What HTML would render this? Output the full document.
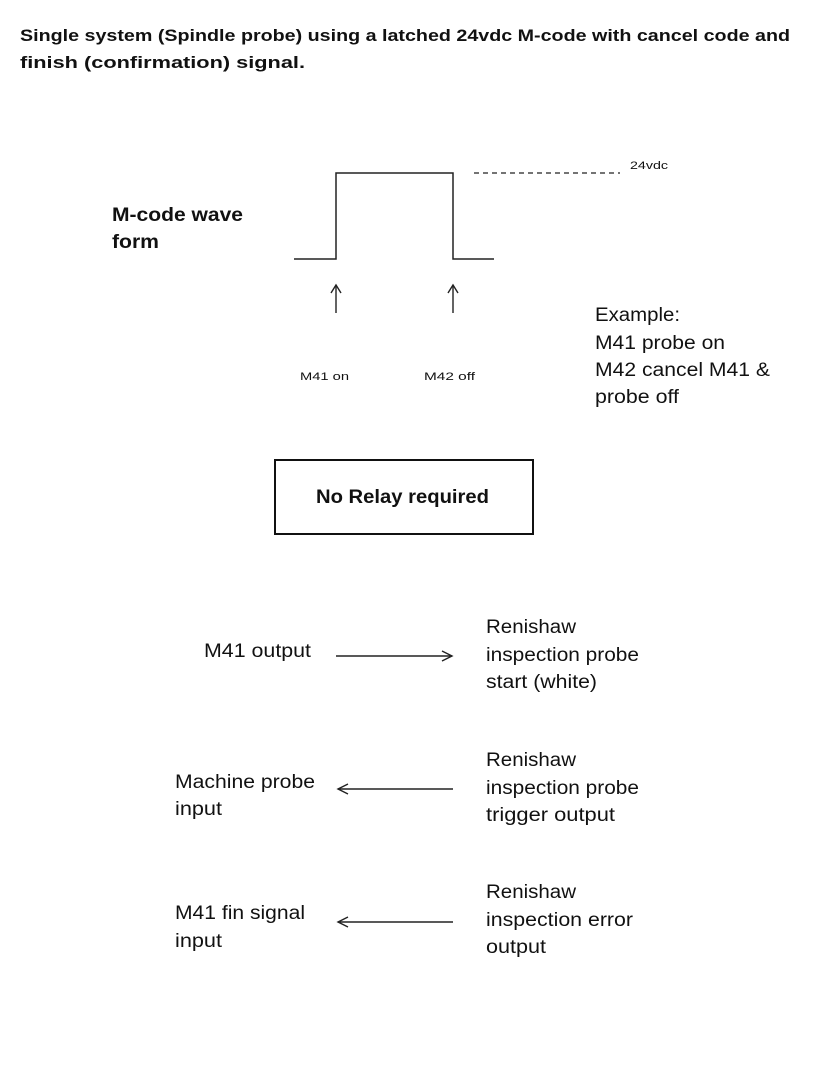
<!DOCTYPE html>
<html><head><meta charset="utf-8"><style>
html,body{margin:0;padding:0;background:#fff;}
svg{display:block;}
text{font-family:"Liberation Sans",sans-serif;fill:#111;}
.b{font-weight:bold;}
.m{font-size:19px;}
.s{font-size:11px;}
</style></head><body>
<svg width="814" height="1070" viewBox="0 0 814 1070" xmlns="http://www.w3.org/2000/svg">
<text x="20" y="41" class="b" font-size="17" textLength="770" lengthAdjust="spacingAndGlyphs">Single system (Spindle probe) using a latched 24vdc M-code with cancel code and</text>
<text x="20" y="68" class="b" font-size="17" textLength="285" lengthAdjust="spacingAndGlyphs">finish (confirmation) signal.</text>

<polyline points="294,259 336,259 336,173 453,173 453,259 494,259" fill="none" stroke="#222" stroke-width="1.5"/>
<line x1="474" y1="173" x2="620" y2="173" stroke="#222" stroke-width="1.3" stroke-dasharray="5,4"/>
<text x="630" y="169" class="s" textLength="38" lengthAdjust="spacingAndGlyphs">24vdc</text>

<text x="112" y="221" class="b m" textLength="131" lengthAdjust="spacingAndGlyphs">M-code wave</text>
<text x="112" y="248" class="b m" textLength="47" lengthAdjust="spacingAndGlyphs">form</text>

<g stroke="#222" stroke-width="1.4" fill="none">
<line x1="336" y1="313" x2="336" y2="285"/><polyline points="331,293 336,285 341,293"/>
<line x1="453" y1="313" x2="453" y2="285"/><polyline points="448,293 453,285 458,293"/>
</g>
<text x="300" y="380" class="s" textLength="49" lengthAdjust="spacingAndGlyphs">M41 on</text>
<text x="424" y="380" class="s" textLength="51" lengthAdjust="spacingAndGlyphs">M42 off</text>

<text x="595" y="321" class="m" textLength="85" lengthAdjust="spacingAndGlyphs">Example:</text>
<text x="595" y="349" class="m" textLength="130" lengthAdjust="spacingAndGlyphs">M41 probe on</text>
<text x="595" y="376" class="m" textLength="175" lengthAdjust="spacingAndGlyphs">M42 cancel M41 &amp;</text>
<text x="595" y="403" class="m" textLength="84" lengthAdjust="spacingAndGlyphs">probe off</text>

<rect x="275" y="460" width="258" height="74" fill="none" stroke="#111" stroke-width="2"/>
<text x="316" y="503" class="b m" textLength="173" lengthAdjust="spacingAndGlyphs">No Relay required</text>

<g stroke="#222" stroke-width="1.4" fill="none">
<line x1="336" y1="656" x2="452" y2="656"/><polyline points="442,651 452,656 442,661"/>
<line x1="338" y1="789" x2="453" y2="789"/><polyline points="348,784 338,789 348,794"/>
<line x1="338" y1="922" x2="453" y2="922"/><polyline points="348,917 338,922 348,927"/>
</g>

<text x="204" y="657" class="m" textLength="107" lengthAdjust="spacingAndGlyphs">M41 output</text>
<text x="486" y="633" class="m" textLength="90" lengthAdjust="spacingAndGlyphs">Renishaw</text>
<text x="486" y="661" class="m" textLength="153" lengthAdjust="spacingAndGlyphs">inspection probe</text>
<text x="486" y="688" class="m" textLength="111" lengthAdjust="spacingAndGlyphs">start (white)</text>

<text x="175" y="788" class="m" textLength="140" lengthAdjust="spacingAndGlyphs">Machine probe</text>
<text x="175" y="815" class="m" textLength="47" lengthAdjust="spacingAndGlyphs">input</text>
<text x="486" y="766" class="m" textLength="90" lengthAdjust="spacingAndGlyphs">Renishaw</text>
<text x="486" y="794" class="m" textLength="153" lengthAdjust="spacingAndGlyphs">inspection probe</text>
<text x="486" y="821" class="m" textLength="129" lengthAdjust="spacingAndGlyphs">trigger output</text>

<text x="175" y="919" class="m" textLength="130" lengthAdjust="spacingAndGlyphs">M41 fin signal</text>
<text x="175" y="947" class="m" textLength="47" lengthAdjust="spacingAndGlyphs">input</text>
<text x="486" y="898" class="m" textLength="90" lengthAdjust="spacingAndGlyphs">Renishaw</text>
<text x="486" y="926" class="m" textLength="147" lengthAdjust="spacingAndGlyphs">inspection error</text>
<text x="486" y="953" class="m" textLength="60" lengthAdjust="spacingAndGlyphs">output</text>
</svg>
</body></html>
